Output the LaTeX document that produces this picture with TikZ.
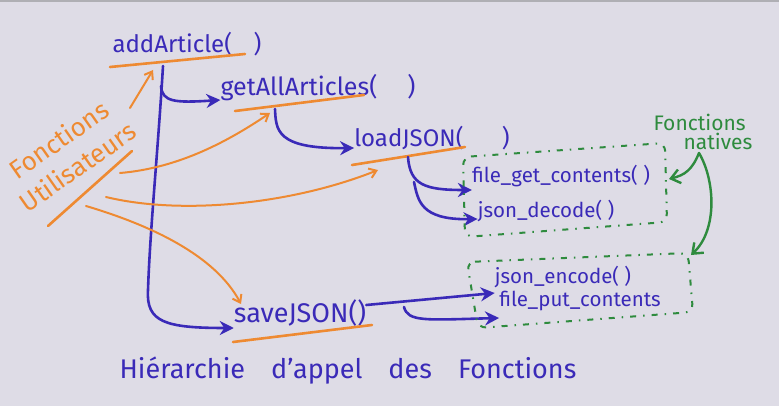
\documentclass[tikz,border=0pt]{standalone}
\usepackage{fontspec}
\setmainfont{Fira Sans}
\usetikzlibrary{arrows.meta}
\definecolor{bg}{HTML}{DEDCE6}
\definecolor{topband}{HTML}{AFAFB4}
\definecolor{ink}{HTML}{3A2AB8}
\definecolor{orng}{HTML}{EE8A32}
\definecolor{grn}{HTML}{2E8B3E}
\tikzset{
  fn/.style={inner sep=0pt, text=ink, font=\fontsize{24}{28}\selectfont},
  nat/.style={inner sep=0pt, text=ink, font=\fontsize{20.5}{24}\selectfont},
  call/.style={draw=ink, line width=2.6pt, line cap=round, -{Stealth[length=14pt,width=14pt]}},
  uline/.style={draw=orng, line width=2.6pt, line cap=round},
  user/.style={draw=orng, line width=2pt, line cap=round, -{Straight Barb[length=7pt,width=10pt]}},
  gbox/.style={draw=grn, line width=2pt, dash pattern=on 6pt off 7pt on 1.5pt off 7pt, rounded corners=8pt},
  garrow/.style={draw=grn, line width=2.4pt, line cap=round, -{Straight Barb[length=9pt,width=14pt]}},
  lbl/.style={inner sep=0pt, text=orng, font=\fontsize{26}{33}\selectfont},
}
\begin{document}
\begin{tikzpicture}[x=1pt,y=-1pt]
\useasboundingbox[fill=bg] (0,0) rectangle (779,406);
\fill[topband] (0,0) rectangle (779,2.5);
% function nodes
\node[fn] (add) at (187,44) {addArticle(\hspace{0.9em})};
\node[fn, font=\fontsize{25}{29}\selectfont] (getall) at (318,88) {getAllArticles(\hspace{1.2em})};
\node[fn] (load) at (432,138) {loadJSON(\hspace{1.6em})};
\node[fn, font=\fontsize{27}{31}\selectfont] (save) at (300,313) {saveJSON()};
\node[nat] (fgc) at (561,176) {file\_get\_contents( )};
\node[nat] (jd) at (546,211) {json\_decode( )};
\node[nat] (je) at (563,277) {json\_encode( )};
\node[nat] (fpc) at (580,301) {file\_put\_contents};
\node[inner sep=0pt, text=ink, font=\fontsize{27}{31}\selectfont] (hier) at (348,371)
  {Hiérarchie\hspace{0.7em} d'appel\hspace{0.7em} des\hspace{0.7em} Fonctions};
% labels
\node[lbl, rotate=35, align=center] (fu) at (68,153) {Fonctions\\Utilisateurs};
\node[inner sep=0pt, text=grn, font=\fontsize{21}{19}\selectfont, align=left] (nat) at (703,132)
  {Fonctions\\\hspace{30pt}natives};
% orange underlines
\coordinate (addL) at (110,67); \coordinate (addR) at (245,54);
\coordinate (gaL) at (235,111); \coordinate (gaR) at (364,95);
\coordinate (ldL) at (352,165); \coordinate (ldR) at (465,147);
\coordinate (svL) at (233,342); \coordinate (svR) at (372,325);
\coordinate (fuL) at (48,226); \coordinate (fuR) at (132,151);
\draw[uline] (addL) -- (addR);
\draw[uline] (gaL) -- (gaR);
\draw[uline] (ldL) -- (ldR);
\draw[uline] (svL) -- (svR);
\draw[uline] (fuL) -- (fuR);
% blue calls
\coordinate (t0) at (163,66);
\draw[call] (t0) .. controls (158,150) and (150,230) .. (148,290)
  .. controls (146,322) and (165,328) .. (save.west |- 0,328);
\draw[call] (161,86) .. controls (162,102) and (175,103) .. (getall.west |- 0,100);
\draw[call] (275,109) .. controls (276,130) and (276,149) .. (load.west |- 0,148);
\draw[call] (408,157) .. controls (410,185) and (425,190) .. (fgc.west |- 0,190);
\draw[call] (414,182) .. controls (418,200) and (420,220) .. (jd.west |- 0,219);
\draw[call] (save.east |- 0,305) -- (je.west |- 0,293);
\draw[call] (404,307) .. controls (408,322) and (425,320) .. (fpc.west |- 0,318);
% orange user arrows
\coordinate (u1) at (130,108); \coordinate (u2) at (120,173);
\coordinate (u3) at (106,197); \coordinate (u4) at (86,206);
\draw[user] (u1) -- (153,70);
\draw[user] (u2) .. controls (180,168) and (230,140) .. (270,113);
\draw[user] (u3) .. controls (180,215) and (290,205) .. (378,170);
\draw[user] (u4) .. controls (150,225) and (215,255) .. (241,304);
% green boxes
\draw[gbox] (463,157) -- (665,143) -- (667,222) -- (465,237) -- cycle;
\draw[gbox] (467,262) -- (688,253) -- (693,312) -- (478,328) -- cycle;
\coordinate (ng) at (699,153);
\draw[garrow] (ng) .. controls (692,170) and (685,175) .. (669,179);
\draw[garrow] (ng) .. controls (715,180) and (718,230) .. (691,255);
\end{tikzpicture}
\end{document}
